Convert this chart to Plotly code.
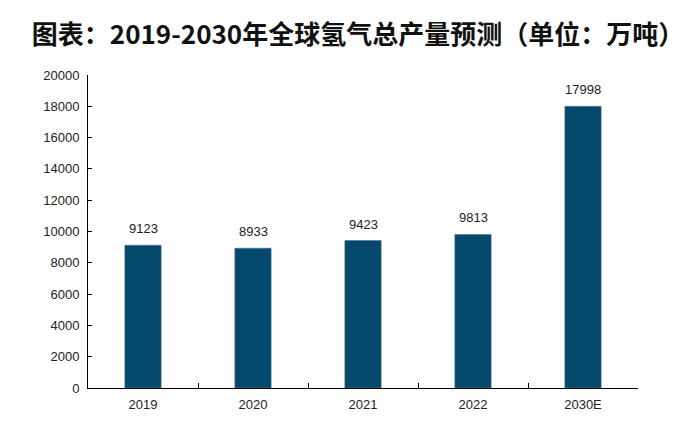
import plotly.graph_objects as go

categories = ["2019", "2020", "2021", "2022", "2030E"]
values = [9123, 8933, 9423, 9813, 17998]
y_ticks = [0, 2000, 4000, 6000, 8000, 10000, 12000, 14000, 16000, 18000, 20000]

fig = go.Figure(go.Bar(
    x=categories, y=values,
    marker=dict(color="#04486B", line=dict(color="#4A7890", width=0.6)),
    cliponaxis=False,
))

for i, v in enumerate(values):
    fig.add_annotation(
        x=i, y=v, xref="x", yref="y", text=str(v), showarrow=False,
        yanchor="bottom", yshift=7,
        font=dict(family="Liberation Sans, Arial", size=13, color="#222222"),
    )

fig.update_layout(
    width=700, height=433,
    margin=dict(l=80, r=70, t=67, b=53),
    paper_bgcolor="white", plot_bgcolor="white",
    bargap=0.67,
    showlegend=False,
    title=dict(
        text="<b>图表：2019-2030年全球氢气总产量预测（单位：万吨）</b>",
        x=0.5, xanchor="center", y=0.937, yanchor="middle",
        font=dict(family="Noto Sans CJK SC", size=26, color="#111111"),
    ),
)
fig.update_xaxes(
    type="category", categoryorder="array", categoryarray=categories,
    range=[-0.5, len(categories) - 0.5],
    showline=True, linecolor="black", linewidth=1,
    ticks="inside", ticklen=5, tickcolor="black",
    tickson="boundaries", showgrid=False, tickangle=0,
    ticklabelstandoff=4,
    tickfont=dict(family="Liberation Sans, Arial", size=13, color="#222222"),
)
fig.update_yaxes(
    range=[0, 20000], tickvals=y_ticks, ticktext=[str(t) for t in y_ticks],
    showline=True, linecolor="black", linewidth=1,
    ticks="inside", ticklen=4, tickcolor="black",
    showgrid=False, zeroline=False,
    ticklabelstandoff=5,
    tickfont=dict(family="Liberation Sans, Arial", size=13, color="#222222"),
)

fig.write_html("out.html")
